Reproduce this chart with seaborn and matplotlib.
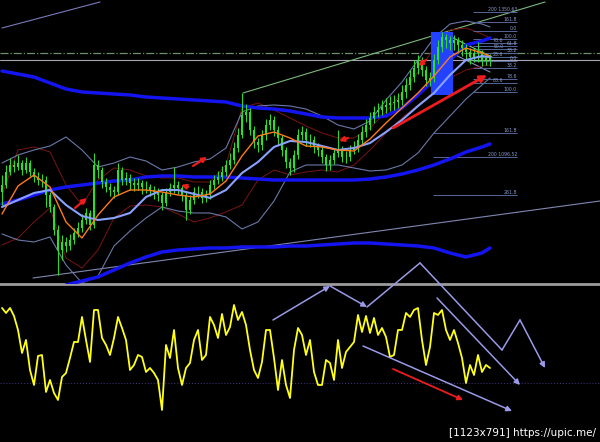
import numpy as np
import matplotlib
matplotlib.use("Agg")
import matplotlib.pyplot as plt
from matplotlib.patches import Rectangle
import seaborn as sns

# -------------------------
# price bars (bar index 0..122), open = previous close
# -------------------------
first_open = 1208
closes = [1215, 1228, 1235, 1233, 1237, 1230, 1237, 1228, 1223, 1220,
          1220, 1205, 1193, 1170, 1150, 1158, 1154, 1160, 1167, 1172,
          1180, 1187, 1175, 1235, 1230, 1218, 1213, 1210, 1208, 1230,
          1220, 1222, 1217, 1215, 1217, 1213, 1213, 1210, 1208, 1205,
          1197, 1208, 1212, 1215, 1212, 1205, 1190, 1200, 1208, 1208,
          1202, 1205, 1215, 1220, 1223, 1228, 1235, 1240, 1252, 1265,
          1285, 1288, 1270, 1258, 1255, 1265, 1275, 1280, 1270, 1262,
          1250, 1238, 1232, 1245, 1265, 1268, 1260, 1260, 1253, 1250,
          1243, 1235, 1240, 1247, 1250, 1243, 1243, 1250, 1253, 1260,
          1268, 1275, 1282, 1288, 1290, 1293, 1295, 1297, 1298, 1300,
          1308, 1315, 1323, 1332, 1340, 1330, 1320, 1322, 1340, 1353,
          1363, 1360, 1357, 1360, 1355, 1352, 1348, 1343, 1347, 1348,
          1340, 1342, 1340]
highs = [1225, 1235, 1242, 1240, 1245, 1240, 1243, 1240, 1232, 1228,
         1226, 1224, 1208, 1196, 1175, 1165, 1163, 1166, 1172, 1178,
         1186, 1192, 1190, 1247, 1240, 1233, 1222, 1217, 1214, 1237,
         1233, 1228, 1226, 1222, 1222, 1220, 1219, 1216, 1214, 1212,
         1208, 1212, 1217, 1233, 1219, 1215, 1208, 1205, 1213, 1214,
         1212, 1210, 1220, 1225, 1229, 1234, 1240, 1247, 1258, 1272,
         1307, 1296, 1292, 1274, 1262, 1270, 1281, 1286, 1284, 1274,
         1265, 1253, 1242, 1250, 1271, 1274, 1272, 1266, 1264, 1257,
         1254, 1246, 1245, 1252, 1270, 1254, 1249, 1255, 1259, 1266,
         1274, 1281, 1288, 1294, 1297, 1300, 1302, 1304, 1305, 1307,
         1315, 1322, 1330, 1340, 1345, 1343, 1334, 1328, 1346, 1360,
         1368, 1366, 1364, 1365, 1363, 1360, 1356, 1352, 1352, 1358,
         1350, 1347, 1346]
lows = [1195, 1212, 1225, 1228, 1230, 1225, 1227, 1224, 1218, 1215,
        1213, 1193, 1188, 1165, 1125, 1140, 1148, 1150, 1156, 1163,
        1168, 1176, 1170, 1172, 1222, 1212, 1208, 1204, 1202, 1205,
        1215, 1215, 1210, 1209, 1210, 1206, 1207, 1204, 1201, 1199,
        1190, 1194, 1204, 1207, 1206, 1199, 1180, 1186, 1196, 1202,
        1197, 1198, 1201, 1211, 1216, 1219, 1224, 1231, 1236, 1248,
        1262, 1278, 1265, 1252, 1248, 1250, 1260, 1270, 1264, 1256,
        1244, 1232, 1225, 1228, 1241, 1260, 1254, 1253, 1247, 1244,
        1237, 1229, 1230, 1236, 1243, 1238, 1237, 1239, 1246, 1248,
        1255, 1263, 1270, 1277, 1283, 1285, 1287, 1289, 1290, 1292,
        1295, 1302, 1310, 1318, 1326, 1324, 1314, 1314, 1318, 1336,
        1348, 1352, 1350, 1350, 1347, 1344, 1340, 1336, 1338, 1338,
        1334, 1335, 1334]

# -------------------------
# indicators, read every 4th bar
# -------------------------
ind_bars = list(range(0, 121, 4)) + [122]
env_upper = [1329, 1326, 1323, 1317, 1311, 1308, 1307, 1306, 1305, 1303, 1302, 1301, 1300, 1299, 1298, 1294,
             1292, 1291, 1289, 1286, 1283, 1282, 1282, 1282, 1284, 1292, 1305, 1320, 1340, 1355, 1359, 1362]
env_mid = [1196, 1200, 1205, 1210, 1213, 1215, 1217, 1219, 1220, 1223, 1224, 1224, 1223, 1223, 1223, 1222,
           1221, 1220, 1220, 1220, 1220, 1220, 1220, 1221, 1223, 1226, 1230, 1235, 1241, 1248, 1253, 1256]
env_lower = [np.nan, np.nan, np.nan, np.nan, 1115, 1119, 1123, 1130, 1137, 1143, 1148, 1150, 1151, 1152, 1152, 1153,
             1153, 1153, 1154, 1154, 1155, 1156, 1157, 1157, 1156, 1155, 1154, 1152, 1147, 1143, 1147, 1152]
ma_slow = [1193, 1200, 1207, 1210, 1195, 1184, 1180, 1182, 1187, 1203, 1210, 1210, 1206, 1202, 1210, 1227,
           1238, 1253, 1259, 1258, 1254, 1250, 1252, 1257, 1268, 1280, 1294, 1307, 1325, 1340, 1344, 1343]
ma_fast = [1186, 1214, 1225, 1213, 1178, 1162, 1185, 1203, 1210, 1210, 1208, 1205, 1203, 1206, 1219, 1244,
           1264, 1268, 1262, 1254, 1253, 1250, 1249, 1261, 1277, 1292, 1307, 1324, 1343, 1352, 1347, 1344]
bb_upper = [1237, 1245, 1250, 1254, 1263, 1250, 1233, 1237, 1243, 1239, 1230, 1233, 1238, 1241, 1252, 1288,
            1294, 1295, 1294, 1291, 1284, 1275, 1271, 1279, 1300, 1318, 1340, 1362, 1376, 1379, 1376, 1373]
bb_lower = [1166, 1160, 1158, 1163, 1135, 1117, 1124, 1154, 1169, 1182, 1193, 1189, 1187, 1187, 1183, 1171,
            1178, 1199, 1228, 1235, 1235, 1235, 1232, 1229, 1230, 1235, 1247, 1267, 1284, 1301, 1315, 1322]
fast_upper = [1205, 1250, 1253, 1248, 1215, 1195, 1220, 1232, 1230, 1224, 1222, 1222, 1218, 1218, 1235, 1292,
              1297, 1290, 1282, 1274, 1267, 1262, 1262, 1272, 1288, 1307, 1328, 1352, 1370, 1372, 1366, 1362]
fast_lower = [1155, 1162, 1178, 1192, 1142, 1132, 1150, 1182, 1194, 1195, 1193, 1186, 1178, 1182, 1188, 1195,
              1220, 1230, 1225, 1228, 1230, 1228, 1235, 1250, 1267, 1282, 1295, 1308, 1322, 1330, 1334, 1335]

# oscillator, one value per bar
osc = [103, 98, 103, 95, 81, 58, 71, 41, 26, 55,
       56, 19, 31, 18, 11, 34, 38, 53, 69, 69,
       94, 71, 49, 101, 101, 73, 66, 56, 73, 94,
       83, 71, 41, 46, 56, 54, 39, 43, 38, 31,
       1, 66, 53, 81, 43, 26, 43, 48, 71, 81,
       51, 56, 94, 86, 73, 97, 76, 84, 106, 91,
       99, 86, 61, 41, 33, 49, 81, 81, 53, 21,
       51, 26, 13, 61, 83, 76, 56, 71, 39, 26,
       26, 51, 48, 31, 71, 43, 59, 64, 69, 96,
       79, 95, 78, 93, 76, 83, 74, 54, 56, 81,
       81, 98, 94, 101, 103, 71, 46, 64, 98, 96,
       101, 81, 71, 81, 68, 53, 28, 46, 36, 56,
       39, 46, 43]
osc_level = 28

# -------------------------
# drawn objects (bar, price) / (bar, osc)
# -------------------------
trend_lines = [((0, 1372), (24.5, 1398), "#7a7ab8"),
               ((60.25, 1307), (135.75, 1398), "#7cb87c"),
               ((7.75, 1122), (149.5, 1199), "#8088b0"),
               ((110.25, 1367), (122.5, 1343), "#8fbf8f"),
               ((108.25, 1355), (122, 1328), "#8c8cc4")]
dashdot_level = 1347
solid_level = 1340
box_bars = (107.25, 112.75)
box_prices = (1305, 1368)
red_arrows = [((18.25, 1192), (21.25, 1202)),
              ((47.75, 1234), (51.25, 1243)),
              ((46.5, 1213), (44.75, 1215)),
              ((86.5, 1262), (84.25, 1259)),
              ((106, 1340), (104, 1334))]
big_red_arrow = ((97.75, 1272), (121.25, 1325))

fib_a_prices = [1388, 1378, 1369, 1361, 1357, 1354, 1351, 1347, 1343, 1339, 1332, 1321, 1317, 1308]
fib_a_labels = ["200 1350.63", "161.8", "0.0", "100.0", "78.6", "61.8", "50.0", "38.2", "23.6", "0.0",
                "38.2", "78.6", "88.6", "100.0"]
fib_a_label_col = [0, 0, 0, 0, 1, 0, 1, 0, 1, 0, 0, 0, 1, 0]
fib_a_bars = (117.75, 128.75)
fib_b_prices = [1267, 1243, 1205]
fib_b_labels = ["161.8", "200 1096.52", "261.8"]
fib_b_bars = (107.75, 128.75)

zigzag_pts = [(67.75, 91), (82, 125), (91.25, 104), (104.5, 148), (125, 61), (129.5, 91), (135.75, 43)]
zigzag_heads = [0, 1, 5]
osc_arrows = [((108.75, 113), (129.5, 26)), ((90.25, 65), (127.5, 0))]
osc_red_arrow = ((97.75, 42), (115.25, 11))

# -------------------------
# figure
# -------------------------
sns.set_theme(style="dark")
plt.rcParams["font.family"] = ["DejaVu Sans"]
fig = plt.figure(figsize=(6, 4.42), dpi=100, facecolor="black")
ax = fig.add_axes([0, 0.3575, 1, 0.6425])
ax2 = fig.add_axes([0, 0, 1, 0.353])
for a in (ax, ax2):
    a.set_facecolor("black")
    a.set_xticks([])
    a.set_yticks([])
    a.set_xlim(-0.5, 149.5)
    for s in a.spines.values():
        s.set_visible(False)
ax.set_ylim(1116, 1400)
ax2.set_ylim(-31, 125)
ax.spines["bottom"].set_visible(True)
ax.spines["bottom"].set_color("#9c9c9c")
ax.spines["bottom"].set_linewidth(2)

# horizontal levels and trend lines
ax.axhline(dashdot_level, color="#6f8f6f", lw=0.9, ls="-.", zorder=1)
ax.axhline(solid_level, color="#a4a4b4", lw=0.8, zorder=1)
for (x0, y0), (x1, y1), c in trend_lines:
    ax.plot([x0, x1], [y0, y1], color=c, lw=0.8, zorder=1)

# envelopes and bands
def line(a, y, color, lw, z):
    sns.lineplot(x=ind_bars, y=y, ax=a, color=color, linewidth=lw, estimator=None, zorder=z)

line(ax, fast_upper, "#7a1414", 0.7, 2)
line(ax, fast_lower, "#7a1414", 0.7, 2)
line(ax, bb_upper, "#6a78a8", 0.8, 2)
line(ax, bb_lower, "#6a78a8", 0.8, 2)
line(ax, env_upper, "#1414f0", 2.5, 3)
line(ax, env_mid, "#1414f0", 2.5, 3)
line(ax, env_lower, "#1414f0", 2.5, 3)

# highlight box
ax.add_patch(Rectangle((box_bars[0], box_prices[0]), box_bars[1] - box_bars[0],
                       box_prices[1] - box_prices[0], color="#2242ff", zorder=3.5, lw=0))

# candles
bars = np.arange(len(closes))
opens = np.array([first_open] + closes[:-1])
cl = np.array(closes)
ax.vlines(bars, lows, highs, color="#2ed82e", lw=0.8, zorder=4)
ax.bar(bars, cl - opens, bottom=opens, width=0.6, color="#22e622", lw=0, zorder=4)

line(ax, ma_slow, "#8aa2ff", 1.5, 5)
line(ax, ma_fast, "#ff7a1a", 1.0, 5)

for (x0, y0), (x1, y1) in red_arrows:
    ax.annotate("", xy=(x1, y1), xytext=(x0, y0), zorder=6,
                arrowprops=dict(arrowstyle="-|>", color="#ee1c1c", lw=1.6, mutation_scale=7,
                                shrinkA=0, shrinkB=0))
(x0, y0), (x1, y1) = big_red_arrow
ax.annotate("", xy=(x1, y1), xytext=(x0, y0), zorder=6,
            arrowprops=dict(arrowstyle="-|>", color="#ee1c1c", lw=2, mutation_scale=10,
                            shrinkA=0, shrinkB=0))

# fibonacci levels
ax.hlines(fib_a_prices, *fib_a_bars, color="#56669a", lw=0.7, zorder=2)
ax.hlines(fib_b_prices, *fib_b_bars, color="#56669a", lw=0.7, zorder=2)
for p, t, col in zip(fib_a_prices, fib_a_labels, fib_a_label_col):
    ax.text(fib_a_bars[1] - 3.4 * col, p + 0.4, t, ha="right", va="bottom",
            fontsize=3.3, color="#8a9acc", zorder=6)
for p, t in zip(fib_b_prices, fib_b_labels):
    ax.text(fib_b_bars[1], p + 0.4, t, ha="right", va="bottom", fontsize=3.3, color="#8a9acc", zorder=6)

# -------------------------
# oscillator panel
# -------------------------
ax2.axhline(osc_level, color="#3c2c70", lw=0.8, ls=":")
sns.lineplot(x=bars, y=osc, ax=ax2, color="#ffff1a", linewidth=1.3, estimator=None)

lav = "#9a9ae8"
for i in range(len(zigzag_pts) - 1):
    style = "-|>" if i in zigzag_heads else "-"
    ax2.annotate("", xy=zigzag_pts[i + 1], xytext=zigzag_pts[i], annotation_clip=False,
                 arrowprops=dict(arrowstyle=style, color=lav, lw=1.1, mutation_scale=8,
                                 shrinkA=0, shrinkB=0, clip_on=False))
for p0, p1 in osc_arrows:
    ax2.annotate("", xy=p1, xytext=p0,
                 arrowprops=dict(arrowstyle="-|>", color=lav, lw=1.1, mutation_scale=8,
                                 shrinkA=0, shrinkB=0))
ax2.annotate("", xy=osc_red_arrow[1], xytext=osc_red_arrow[0],
             arrowprops=dict(arrowstyle="-|>", color="#ee1c1c", lw=1.3, mutation_scale=7,
                             shrinkA=0, shrinkB=0))

fig.text(0.993, 0.01, "[1123x791] https://upic.me/", ha="right", va="bottom",
         fontsize=7.5, color="white")

fig.savefig("out.png", dpi=100, facecolor="black")
